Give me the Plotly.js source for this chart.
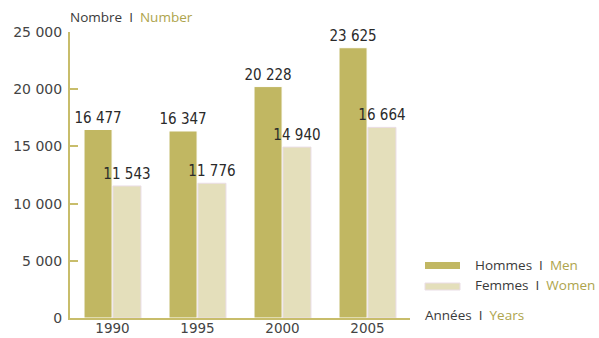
<!DOCTYPE html>
<html><head><meta charset="utf-8">
<script src="https://cdn.plot.ly/plotly-3.0.1.min.js"></script>
<style>body{margin:0;background:#fff}</style>
</head><body><div id="chart" style="width:599px;height:338px"></div>
<script>
const years = ['1990', '1995', '2000', '2005'];
const men = [16477, 16347, 20228, 23625];
const women = [11543, 11776, 14940, 16664];
const yTicks = [0, 5000, 10000, 15000, 20000, 25000];

const OLIVE = '#c1b762', BEIGE = '#e4dfbb', AX = '#c8bd6b', TXT = '#3a3a3a', OT = '#aea44c';
const FONT = '"Open Sans", Lato, sans-serif';
const TICKFONT = '"DejaVu Sans", sans-serif';
const LBLFONT = '"DejaVu Sans Condensed", "Liberation Sans Narrow", Lato, sans-serif';

const traces = [
  {type:'bar', x:years, y:men, name:'Hommes', marker:{color:OLIVE, line:{color:'#ffffff', width:1}},
   texttemplate:'%{y:,}', textposition:'outside', constraintext:'none', cliponaxis:false,
   textfont:{family:LBLFONT, size:15, color:'#2a2a2a'}, hoverinfo:'skip'},
  {type:'bar', x:years, y:women, name:'Femmes', marker:{color:BEIGE, line:{color:'#eadde6', width:1}},
   texttemplate:'%{y:,}', textposition:'outside', constraintext:'none', cliponaxis:false,
   textfont:{family:LBLFONT, size:15, color:'#2a2a2a'}, hoverinfo:'skip'}
];

const layout = {
  width:599, height:338, separators:', ',
  margin:{l:70, r:189, t:32, b:20, pad:0},
  paper_bgcolor:'#fff', plot_bgcolor:'#fff',
  font:{family:FONT, size:13, color:TXT},
  barmode:'group', bargap:0.32, bargroupgap:0.03,
  showlegend:false,
  xaxis:{type:'category', showline:true, linecolor:AX, linewidth:2, ticks:'', showgrid:false,
    tickfont:{family:TICKFONT, size:13.5, color:'#444'}, zeroline:false, ticklabelstandoff:-3},
  yaxis:{range:[0,25000], tickvals:yTicks, tickformat:',d', showline:true, linecolor:AX, linewidth:2,
    ticks:'inside', ticklen:8, tickwidth:2, tickcolor:AX, showgrid:false, zeroline:false,
    tickfont:{family:TICKFONT, size:14, color:'#444'}, ticklabelstandoff:3},
  annotations:[
    {xref:'paper', yref:'paper', x:-0.006, y:1.0, yshift:15, xanchor:'left', yanchor:'middle', showarrow:false,
     text:'Nombre  I  <span style="color:'+OT+'">Number</span>', font:{family:FONT, size:13.5, color:TXT}},
    {xref:'paper', yref:'paper', x:(473-70)/340, y:(318-265)/286, xanchor:'left', yanchor:'middle', showarrow:false,
     text:'Hommes  I  <span style="color:'+OT+'">Men</span>', font:{family:FONT, size:13.5, color:TXT}},
    {xref:'paper', yref:'paper', x:(473-70)/340, y:(318-285)/286, xanchor:'left', yanchor:'middle', showarrow:false,
     text:'Femmes  I  <span style="color:'+OT+'">Women</span>', font:{family:FONT, size:13.5, color:TXT}},
    {xref:'paper', yref:'paper', x:(423-70)/340, y:(318-315)/286, xanchor:'left', yanchor:'middle', showarrow:false,
     text:'Années  I  <span style="color:'+OT+'">Years</span>', font:{family:FONT, size:13.5, color:TXT}}
  ],
  shapes:[
    {type:'rect', xref:'paper', yref:'paper', x0:(425-70)/340, x1:(460-70)/340, y0:(318-269)/286, y1:(318-262)/286,
     fillcolor:OLIVE, line:{width:0}},
    {type:'rect', xref:'paper', yref:'paper', x0:(425-70)/340, x1:(460-70)/340, y0:(318-290)/286, y1:(318-283)/286,
     fillcolor:BEIGE, line:{color:'#eadde6', width:1}}
  ]
};
Plotly.newPlot('chart', traces, layout, {staticPlot:true, displayModeBar:false});
</script></body></html>
